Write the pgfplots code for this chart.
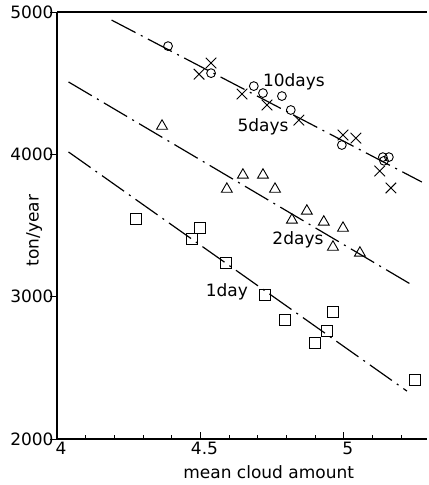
\documentclass[border=0pt]{standalone}
\usepackage{fontspec}
\setmainfont{DejaVu Sans}
\usepackage{pgfplots}
\pgfplotsset{compat=1.18}
\begin{document}
\begin{tikzpicture}
\begin{axis}[
  scale only axis, width=370bp, height=427bp,
  xmin=4, xmax=5.29, ymin=2000, ymax=5000,
  axis x line=box, axis y line=left,
  axis line style={-, line width=1.4bp},
  xtick pos=left, ytick pos=left,
  xtick={4,4.5,5}, xticklabels={4,4.5,5},
  minor xtick={4.1,4.2,4.3,4.4,4.6,4.7,4.8,4.9,5.1,5.2},
  ytick={2000,3000,4000,5000}, yticklabels={2000,3000,4000,5000},
  tick align=inside,
  major tick length=7bp, minor tick length=4bp,
  every tick/.style={black, line width=1bp},
  ytick style={xshift=-7bp},
  /pgf/number format/assume math mode=true,
  xticklabel style={font=\fontsize{17bp}{20bp}\selectfont, xshift=4bp},
  yticklabel style={font=\fontsize{17bp}{20bp}\selectfont},
  xlabel={mean cloud amount}, ylabel={ton/year},
  xlabel style={font=\fontsize{17bp}{20bp}\selectfont, at={(axis description cs:0.572,-0.077)}, anchor=center},
  ylabel style={font=\fontsize{17bp}{20bp}\selectfont, at={(axis description cs:-0.062,0.488)}, anchor=center},
  clip=false,
]
% regression lines
\addplot[black, line width=1.2bp, dash pattern=on 27bp off 6bp on 2bp off 6bp] coordinates {(4.19,4944) (5.272,3806)};
\addplot[black, line width=1.2bp, dash pattern=on 27bp off 6bp on 2bp off 6bp] coordinates {(4.04,4509) (5.244,3075)};
\addplot[black, line width=1.2bp, dash pattern=on 27bp off 6bp on 2bp off 6bp] coordinates {(4.04,4017) (5.22,2337)};
% 10 days (circles)
\addplot[only marks, mark=o, mark size=4.4bp, mark options={black, line width=0.9bp}] coordinates {
(4.387,4761) (4.537,4571) (4.686,4480) (4.718,4431) (4.784,4410) (4.815,4312) (4.993,4066) (5.136,3981) (5.157,3981) (5.140,3955)};
% 5 days (crosses)
\addplot[only marks, mark=x, mark size=7.5bp, mark options={black, line width=0.9bp}] coordinates {
(4.537,4642) (4.495,4564) (4.645,4424) (4.732,4347) (4.843,4241) (4.997,4136) (5.042,4115) (5.125,3883) (5.164,3764)};
% 2 days (triangles)
\addplot[only marks, mark=triangle, mark size=6.3bp, mark options={black, line width=0.9bp}] coordinates {
(4.366,4199) (4.648,3855) (4.718,3855) (4.592,3756) (4.760,3756) (4.819,3539) (4.871,3602) (4.930,3525) (4.997,3482) (4.962,3349) (5.056,3307)};
% 1 day (squares)
\addplot[only marks, mark=square, mark size=5.5bp, mark options={black, line width=0.9bp}] coordinates {
(4.275,3546) (4.498,3482) (4.470,3405) (4.589,3237) (4.725,3012) (4.794,2836) (4.962,2892) (4.941,2759) (4.899,2675) (5.247,2415)};
\node[font=\fontsize{17bp}{19bp}\selectfont] at (axis cs:4.826,4509) {10days};
\node[font=\fontsize{17bp}{19bp}\selectfont] at (axis cs:4.718,4193) {5days};
\node[font=\fontsize{17bp}{19bp}\selectfont] at (axis cs:4.840,3398) {2days};
\node[font=\fontsize{17bp}{19bp}\selectfont] at (axis cs:4.592,3033) {1day};
\coordinate (bl) at (axis cs:3.801,1677);
\coordinate (tr) at (axis cs:5.296,5085);
\end{axis}
\pgfresetboundingbox
\path[use as bounding box] (bl) rectangle (tr);
\end{tikzpicture}
\end{document}
